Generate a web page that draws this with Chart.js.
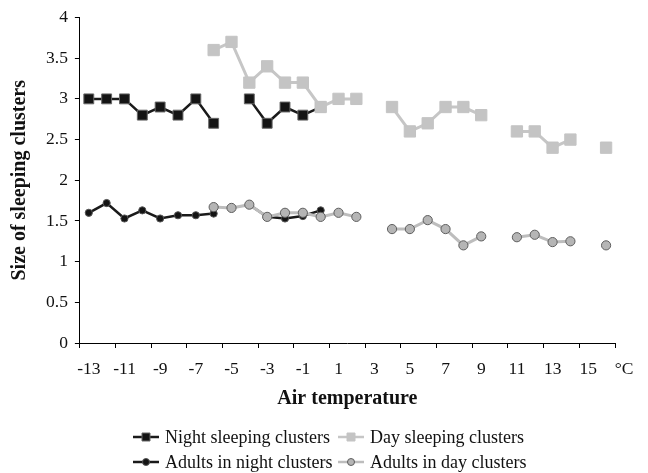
<!DOCTYPE html>
<html>
<head>
<meta charset="utf-8">
<script src="https://cdn.jsdelivr.net/npm/chart.js@4.4.1/dist/chart.umd.min.js"></script>
<style>
  html, body { margin: 0; padding: 0; background: #fff; }
</style>
</head>
<body>
<canvas id="chart" width="648" height="473"></canvas>
<script>
/* categories: air temperature, one per degree */
const temps = [-13, -12, -11, -10, -9, -8, -7, -6, -5, -4, -3, -2, -1, 0, 1,
               2, 3, 4, 5, 6, 7, 8, 9, 10, 11, 12, 13, 14, 15, 16];

/* series values (null = no observation) */
const nightClusters = [3.0, 3.0, 3.0, 2.8, 2.9, 2.8, 3.0, 2.7, null, 3.0, 2.7, 2.9, 2.8, 2.9, null,
                       null, null, null, null, null, null, null, null, null, null, null, null, null, null, null];
const dayClusters   = [null, null, null, null, null, null, null, 3.6, 3.7, 3.2, 3.4, 3.2, 3.2, 2.9, 3.0,
                       3.0, null, 2.9, 2.6, 2.7, 2.9, 2.9, 2.8, null, 2.6, 2.6, 2.4, 2.5, null, 2.4];
const nightAdults   = [1.60, 1.72, 1.53, 1.63, 1.53, 1.57, 1.57, 1.59, null, 1.70, 1.55, 1.53, 1.56, 1.63, null,
                       null, null, null, null, null, null, null, null, null, null, null, null, null, null, null];
const dayAdults     = [null, null, null, null, null, null, null, 1.67, 1.66, 1.70, 1.55, 1.60, 1.60, 1.55, 1.60,
                       1.55, null, 1.40, 1.40, 1.51, 1.40, 1.20, 1.31, null, 1.30, 1.33, 1.24, 1.25, null, 1.20];

/* axis ticks: x ticks sit between categories, labels shifted onto them */
const xTickPos    = [-13.5, -11.5, -9.5, -7.5, -5.5, -3.5, -1.5, 0.5, 2.5, 4.5, 6.5, 8.5, 10.5, 12.5, 14.5, 16.5];
const xTickLabels = ['-13', '-11', '-9', '-7', '-5', '-3', '-1', '1', '3', '5', '7', '9', '11', '13', '15', '\u00B0C'];
const yTickPos    = [0, 0.5, 1, 1.5, 2, 2.5, 3, 3.5, 4];
const yTickLabels = ['0', '0.5', '1', '1.5', '2', '2.5', '3', '3.5', '4'];

const SERIF = '"Liberation Serif", "Times New Roman", serif';

function points (vals) {
    return temps.map((t, i) => ({ x: t, y: vals[i] }));
}

/* legend drawn as two rows of two, like the original */
const pairLegend = {
    id: 'pairLegend',
    afterDraw (chart) {
        const ctx = chart.ctx;
        const sets = chart.data.datasets;
        const rows = [[0, 1], [2, 3]];
        const colX = [133, 338];
        const rowY = [437, 462];
        ctx.save();
        ctx.font = '18px ' + SERIF;
        ctx.textBaseline = 'middle';
        rows.forEach((row, r) => {
            row.forEach((di, c) => {
                const ds = sets[di];
                const x = colX[c], y = rowY[r], w = 26;
                ctx.strokeStyle = ds.borderColor;
                ctx.lineWidth = 2.5;
                ctx.beginPath();
                ctx.moveTo(x, y);
                ctx.lineTo(x + w, y);
                ctx.stroke();
                ctx.fillStyle = ds.pointBackgroundColor;
                ctx.strokeStyle = ds.pointBorderColor;
                ctx.lineWidth = 1;
                ctx.beginPath();
                if (ds.pointStyle === 'rect') {
                    ctx.rect(x + w / 2 - 4, y - 4, 8, 8);
                } else {
                    ctx.arc(x + w / 2, y, 3.5, 0, Math.PI * 2);
                }
                ctx.fill();
                ctx.stroke();
                ctx.fillStyle = '#111';
                ctx.fillText(ds.label, x + w + 6, y + 1);
            });
        });
        ctx.restore();
    }
};

new Chart(document.getElementById('chart'), {
    type: 'line',
    data: {
        datasets: [
            {
                label: 'Night sleeping clusters',
                data: points(nightClusters),
                borderColor: '#1a1a1a', borderWidth: 2.5,
                pointStyle: 'rect', pointRadius: 7, pointBorderWidth: 1,
                pointBackgroundColor: '#141414', pointBorderColor: '#666',
                order: 2
            },
            {
                label: 'Day sleeping clusters',
                data: points(dayClusters),
                borderColor: '#c6c6c6', borderWidth: 3,
                pointStyle: 'rect', pointRadius: 8, pointBorderWidth: 1,
                pointBackgroundColor: '#c4c4c4', pointBorderColor: '#c4c4c4',
                order: 1
            },
            {
                label: 'Adults in night clusters',
                data: points(nightAdults),
                borderColor: '#1a1a1a', borderWidth: 2.5,
                pointStyle: 'circle', pointRadius: 3.6, pointBorderWidth: 1,
                pointBackgroundColor: '#141414', pointBorderColor: '#555',
                order: 2
            },
            {
                label: 'Adults in day clusters',
                data: points(dayAdults),
                borderColor: '#bdbdbd', borderWidth: 3,
                pointStyle: 'circle', pointRadius: 4.6, pointBorderWidth: 1,
                pointBackgroundColor: '#b5b5b5', pointBorderColor: '#5e5e5e',
                order: 1
            }
        ]
    },
    options: {
        responsive: false,
        animation: false,
        spanGaps: false,
        layout: { padding: { top: 10, left: 0, right: 33, bottom: 63 } },
        plugins: {
            legend: { display: false },
            tooltip: { enabled: false }
        },
        scales: {
            x: {
                type: 'linear',
                min: -13.5,
                max: 16.5,
                afterBuildTicks: (s) => { s.ticks = xTickPos.map(v => ({ value: v })); },
                grid: { drawOnChartArea: false, drawTicks: true, tickLength: 5, color: '#000' },
                border: { color: '#000', width: 1 },
                ticks: {
                    autoSkip: false,
                    maxRotation: 0,
                    labelOffset: 9,
                    padding: 10.5,
                    color: '#111',
                    font: { family: SERIF, size: 17.5 },
                    callback: (v, i) => xTickLabels[i]
                },
                title: {
                    display: true,
                    text: 'Air temperature',
                    color: '#111',
                    font: { family: SERIF, size: 20, weight: 'bold' },
                    padding: { top: -3, bottom: -1 }
                }
            },
            y: {
                min: 0,
                max: 4,
                afterBuildTicks: (s) => { s.ticks = yTickPos.map(v => ({ value: v })); },
                grid: { drawOnChartArea: false, drawTicks: true, tickLength: 5, color: '#000' },
                border: { color: '#000', width: 1 },
                ticks: {
                    padding: 7,
                    color: '#111',
                    font: { family: SERIF, size: 17.5 },
                    callback: (v, i) => yTickLabels[i]
                },
                title: {
                    display: true,
                    text: 'Size of sleeping clusters',
                    color: '#111',
                    font: { family: SERIF, size: 20, weight: 'bold' },
                    padding: { top: 8, bottom: 7 }
                }
            }
        }
    },
    plugins: [pairLegend]
});
</script>
</body>
</html>
